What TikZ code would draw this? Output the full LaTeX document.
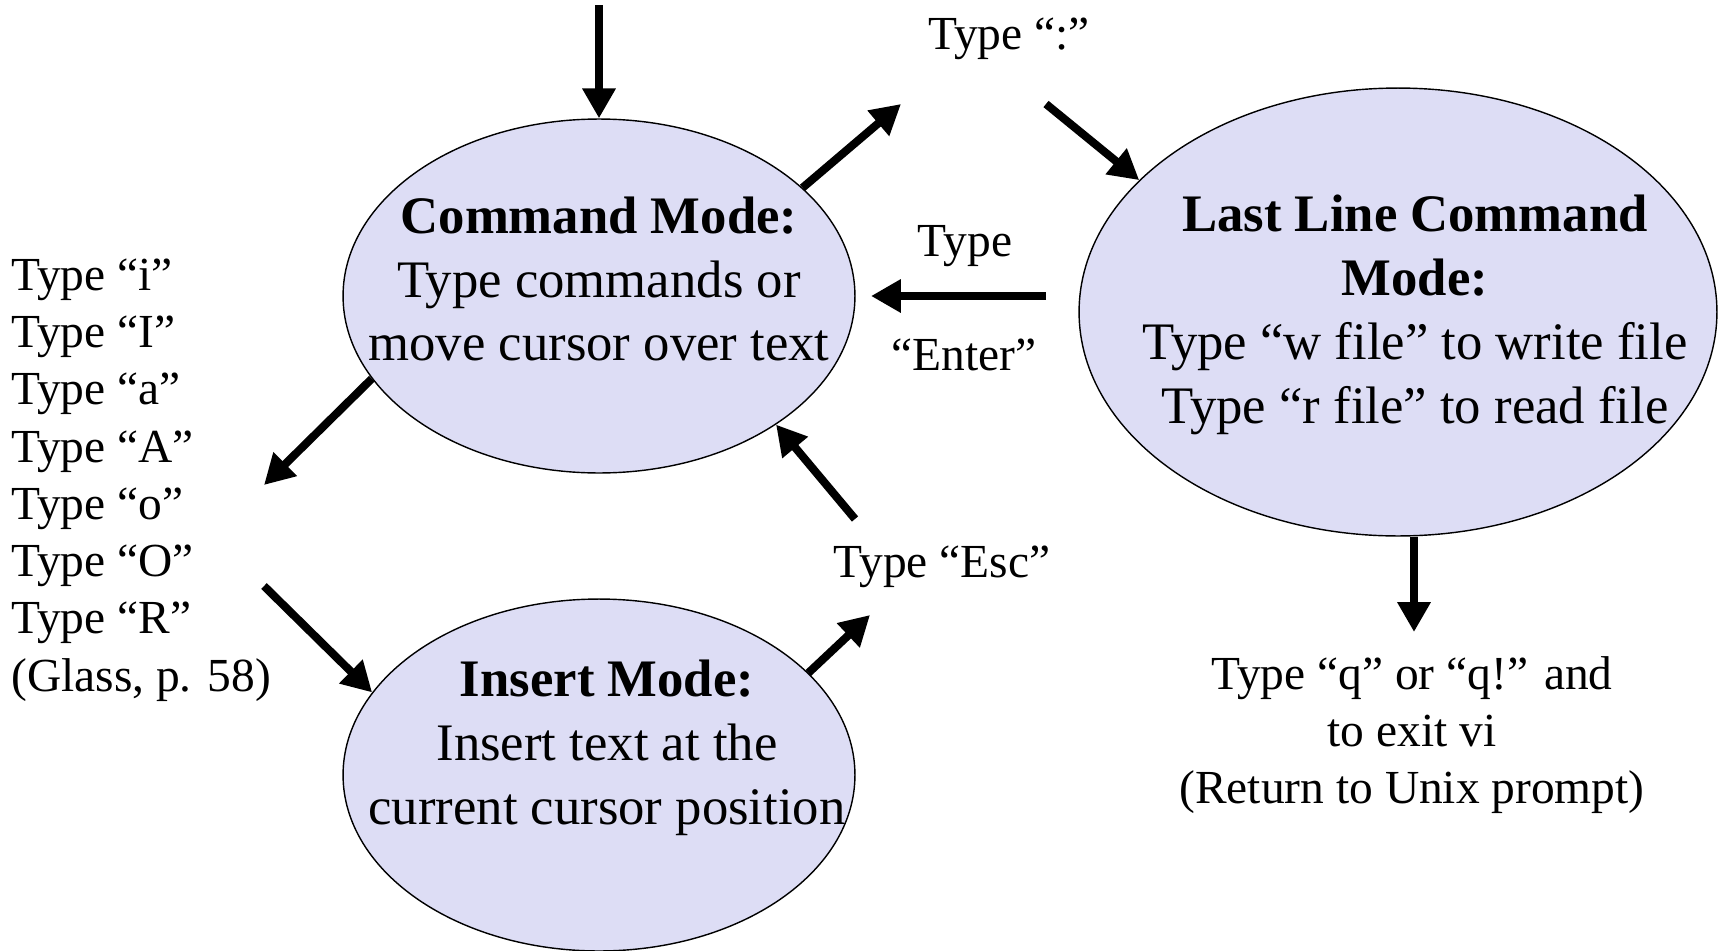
\documentclass[tikz,border=0pt]{standalone}
\usepackage{fontspec}
\setmainfont{Liberation Serif}
\usetikzlibrary{shapes.geometric,arrows.meta}

\definecolor{modefill}{RGB}{221,221,245}
\tikzset{
	mode/.style={ellipse,draw=black,line width=0.8pt,fill=modefill,inner sep=0pt},
	modetext/.style={align=center,inner sep=0pt,font=\fontsize{30}{36.4}\selectfont},
	lbl/.style={align=center,inner sep=0pt,font=\fontsize{27}{32.6}\selectfont},
	arr/.style={line width=4.6pt,-{Triangle[length=17pt,width=18pt]}}
}

\begin{document}
\begin{tikzpicture}[x=0.02cm,y=-0.02cm]
\useasboundingbox (0,0) rectangle (1723,950);

%Modes
\node[mode,minimum width=10.24cm,minimum height=7.08cm] (cmd) at (599,296) {};
\node[mode,minimum width=12.76cm,minimum height=8.96cm] (last) at (1398,312) {};
\node[mode,minimum width=10.24cm,minimum height=7.04cm] (ins) at (599,775) {};

%Text in the modes
\node[modetext] (cmdtxt) at (599,279) {\textbf{Command Mode:}\\Type commands or\\move cursor over text};
\node[modetext] (lasttxt) at (1415,315) {\textbf{Last Line Command}\\\textbf{Mode:}\\Type “w file” to write file\\Type “r file” to read file};
\node[modetext] (instxt) at (607,748) {\textbf{Insert Mode:}\\Insert text at the\\current cursor position};

%Labels
\node[lbl] (colon) at (1009,39) {Type “:”};
\node[lbl] (entertop) at (965,246) {Type};
\node[lbl] (enterbot) at (964,355) {“Enter”};
\node[lbl] (esc) at (942,567) {Type “Esc”};
\node[lbl,align=left,anchor=west] (keys) at (11,480) {Type “i”\\Type “I”\\Type “a”\\Type “A”\\Type “o”\\Type “O”\\Type “R”\\(Glass, p. 58)};
\node[lbl] (quit) at (1412,735) {Type “q” or “q!” and\\to exit vi\\(Return to Unix prompt)};

%Free ends of the arrows
\coordinate (start) at (599,5);
\coordinate (colonin) at (901,104);
\coordinate (colonout) at (1046,104);
\coordinate (enterin) at (871,296);
\coordinate (enterout) at (1046,296);
\coordinate (keysin) at (264,485);
\coordinate (keysout) at (264,586);
\coordinate (escin) at (870,615);
\coordinate (escout) at (855,519);
\coordinate (quitin) at (1414,632);

%Arrows
\draw[arr] (start) -- (cmd);
\draw[arr] (cmd.28) -- (colonin);
\draw[arr] (colonout) -- (last.153);
\draw[arr] (enterout) -- (enterin);
\draw[arr] (cmd.200) -- (keysin);
\draw[arr] (keysout) -- (ins.160);
\draw[arr] (ins.26) -- (escin);
\draw[arr] (escout) -- (cmd.-36);
\draw[arr] (last.south -| quitin) -- (quitin);

\end{tikzpicture}
\end{document}
